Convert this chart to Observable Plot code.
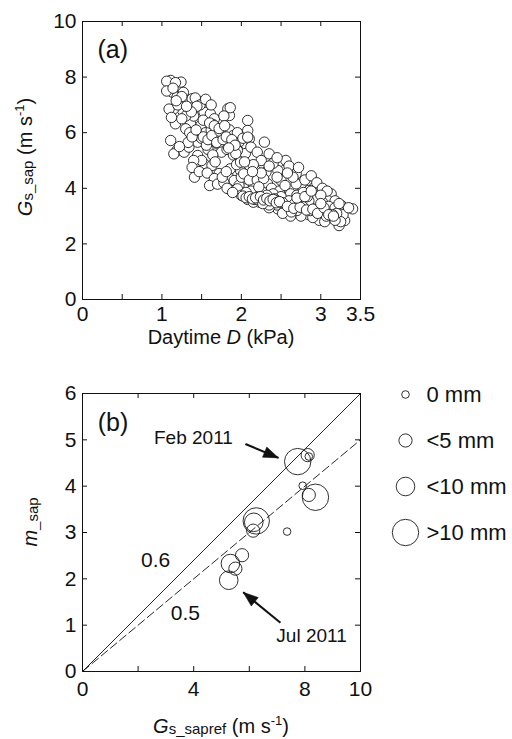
<!DOCTYPE html>
<html><head><meta charset="utf-8">
<script src="https://cdn.jsdelivr.net/npm/d3@7"></script>
<script src="https://cdn.jsdelivr.net/npm/@observablehq/plot@0.6"></script>
<style>
body{margin:0;background:#fff;}
#root{position:relative;width:512px;height:739px;font-family:"Liberation Sans",Arial,Helvetica,sans-serif;color:#111;}
.panel{position:absolute;left:0;}
.lbl{position:absolute;font-size:20px;white-space:nowrap;transform:translate(-50%,-50%);line-height:1;}
.rot{transform:translate(-50%,-50%) rotate(-90deg);}
.sb{font-size:15px;position:relative;top:1px;}
.sp{font-size:13px;position:relative;top:-8px;}
</style></head>
<body><div id="root"></div>
<script>
// ---------- Panel (a) data: daytime D (kPa) vs Gs_sap (m s-1) ----------
const dayD = [
1.11,1.24,1.06,1.17,1.13,1.06,1.19,1.28,1.22,1.26,1.15,1.09,1.38,1.49,1.53,1.61,1.83,1.85,1.72,1.59,
1.49,1.36,1.30,1.17,1.11,1.19,1.15,1.28,1.34,1.45,1.57,1.70,1.76,1.87,1.97,2.08,2.08,2.10,1.45,1.53,
1.63,1.41,1.72,1.83,1.91,1.99,2.04,2.12,2.20,1.87,1.97,
1.42,1.48,1.35,1.40,1.55,1.62,1.66,1.78,1.86,1.30,1.20,1.25,1.35,1.42,1.50,1.55,1.62,1.68,1.74,1.80,
1.85,1.90,1.95,2.02,1.68,1.75,1.82,1.90,1.95,2.00,2.05,1.58,1.64,1.50,1.40,1.38,1.47,1.57,1.66,1.60,
1.70,1.78,1.82,1.76,1.86,1.94,2.00,1.33,1.22,1.38,
2.08,2.29,2.12,2.35,2.56,2.54,2.69,2.46,2.31,2.18,2.75,2.92,2.85,2.98,3.13,3.26,3.40,3.30,3.23,3.04,
2.94,2.81,2.62,2.46,2.37,2.23,2.06,1.95,2.16,2.33,2.50,2.69,2.88,3.09,3.13,3.00,2.79,2.58,2.41,2.27,
1.99,1.95,2.03,
2.20,2.25,2.40,2.45,2.60,2.65,2.72,2.80,2.88,2.95,3.02,3.08,3.18,3.22,3.28,3.25,3.12,3.05,2.97,2.90,
2.85,2.75,2.70,2.62,2.55,2.50,2.45,2.35,2.30,2.18,2.12,2.08,2.10,2.20,2.28,2.38,2.48,2.55,2.62,2.70,
2.78,2.95,3.02,3.10,3.18,2.65,2.40,2.15,2.00,2.25,2.50,2.60,2.85,3.00,2.35,2.55,2.75,2.92,3.20,3.35,
2.45,2.58,2.35,2.15,2.25,2.98,3.05,3.18,2.90,
1.14,1.27,1.44,1.52,1.64,1.71,1.79,1.93,2.04,2.14,2.22,2.32,2.42,2.52,2.66,2.77,2.83,3.15,1.56,1.67,
1.81,1.89,2.06,2.17,2.27,2.44,2.52,2.63,2.72,2.87,3.07,3.23,
1.52,1.58,1.63,1.69,1.73,1.77,1.81,1.88,1.92,1.60,1.66,1.72,1.79,1.84,2.02,2.06,2.10,2.14,2.18,2.24,
2.28,2.32,2.36,2.40,2.44,2.48,2.58,2.66,2.74,2.82,2.90,2.96,3.04,3.10,3.16,2.70,2.80,2.88,3.00,1.43,
1.37,1.31,1.25,1.18,1.12
];
const gsSap = [
7.88,7.82,7.85,7.80,7.46,7.50,7.28,7.28,7.10,6.80,6.86,6.85,7.22,7.10,6.74,6.68,6.86,6.62,6.32,6.20,
6.26,6.32,6.14,6.32,5.72,5.36,5.24,5.30,5.48,5.66,5.72,5.60,5.60,5.60,5.66,6.44,6.08,5.78,5.18,4.88,
4.82,4.40,4.53,4.46,4.28,4.64,3.98,3.68,3.68,3.92,4.10,
7.25,7.00,6.90,6.60,7.20,7.00,6.50,6.60,6.90,6.60,7.00,6.50,6.00,5.90,5.80,6.00,6.10,6.00,5.90,5.95,
6.10,5.90,6.00,5.80,5.70,5.30,5.40,5.20,5.40,5.10,5.25,5.40,5.20,5.00,5.00,4.75,4.60,4.55,4.35,4.10,
4.15,4.20,4.00,4.40,4.70,4.85,4.40,5.65,5.50,5.85,
5.84,5.66,5.48,5.24,5.00,4.64,4.52,4.64,4.58,4.64,4.10,4.04,3.92,3.86,3.80,3.38,3.26,2.84,2.66,2.90,
3.02,3.26,3.26,3.26,3.50,3.50,3.68,3.98,4.10,4.16,4.28,4.16,3.68,3.56,3.20,3.20,3.50,3.62,3.68,3.86,
4.94,5.36,4.52,
5.30,5.00,4.90,5.10,4.80,4.40,4.75,4.30,4.45,4.20,4.00,3.90,3.55,3.20,3.05,2.80,2.95,3.10,3.40,3.30,
3.05,3.00,3.20,3.00,3.40,3.55,3.40,3.30,3.55,3.75,3.90,3.60,4.30,4.30,4.35,4.00,3.90,4.10,3.80,3.75,
3.85,3.60,3.50,3.35,3.30,3.50,3.80,3.50,3.75,3.65,3.70,3.55,3.55,3.75,3.40,3.25,3.40,3.15,3.10,3.30,
4.40,4.55,4.80,4.85,4.55,2.85,2.80,2.85,2.95,
7.60,7.45,6.95,6.45,6.30,5.95,5.75,5.25,4.95,4.60,4.05,3.75,3.62,3.48,3.42,3.35,3.70,3.05,5.55,4.95,
4.60,3.85,3.85,3.60,3.45,3.55,3.10,3.15,3.35,3.20,3.00,3.45,
5.85,5.75,5.90,5.65,6.05,5.75,5.85,5.75,5.55,6.35,6.25,6.15,6.25,5.45,3.72,3.66,3.70,3.62,3.66,3.70,
3.58,3.64,3.55,3.60,3.48,3.52,3.35,3.28,3.32,3.22,3.25,3.10,3.30,3.05,3.00,3.65,3.70,3.90,3.45,6.10,
6.75,6.95,7.30,7.15,6.55
];
const xTicksA = [0, 0.5, 1, 1.5, 2, 2.5, 3, 3.5];
const xLabelsA = [0, 1, 2, 3, 3.5];
const yTicksA = [0, 2, 4, 6, 8, 10];

// ---------- Panel (b) data: Gs_sapref vs m_sap, by rainfall class ----------
const rainLabels = ["0 mm", "<5 mm", "<10 mm", ">10 mm"];
const gsSapref = [7.74, 8.10, 8.14, 7.92, 8.38, 8.14, 6.25, 6.16, 6.14, 7.36, 5.74, 5.32, 5.50, 5.26];
const mSap     = [4.53, 4.67, 4.64, 4.01, 3.76, 3.81, 3.25, 3.22, 3.04, 3.02, 2.51, 2.33, 2.22, 1.97];
const rainCls  = [">10 mm", "<5 mm", "0 mm", "0 mm", ">10 mm", "<5 mm", ">10 mm", "<10 mm", "<5 mm", "0 mm", "<5 mm", "<10 mm", "<5 mm", "<10 mm"];
const slopes = [0.6, 0.5];
const xTicksB = [0, 2, 4, 6, 8, 10];
const xLabelsB = [0, 4, 8, 10];
const yTicksB = [0, 1, 2, 3, 4, 5, 6];
const arrowNames = ["Feb 2011", "Jul 2011"];
const arrowFrom = [[5.86, 4.91], [7.12, 1.05]];
const arrowTo   = [[7.05, 4.61], [5.78, 1.71]];

// ---------- styles / layout ----------
const FONT = '"Liberation Sans", Arial, Helvetica, sans-serif';
const INK = "#111";
const radius = {"0 mm": 3.8, "<5 mm": 6.6, "<10 mm": 9.3, ">10 mm": 13.2};
const IW = 278, IH = 278;
const ML = 82, MR = 152;
const TICK = 5;

function frameTicks(xt, yt) {
  return [
    Plot.tickX(xt, {x: d => d, insetTop: IH - TICK, stroke: INK}),
    Plot.tickX(xt, {x: d => d, insetBottom: IH - TICK, stroke: INK}),
    Plot.tickY(yt, {y: d => d, insetRight: IW - TICK, stroke: INK}),
    Plot.tickY(yt, {y: d => d, insetLeft: IW - TICK, stroke: INK}),
    Plot.frame({stroke: INK, strokeWidth: 1})
  ];
}
const style = {fontFamily: FONT, fontSize: "21px", color: INK, background: "transparent", overflow: "visible"};

const root = document.getElementById("root");

// Panel (a)
const ptsA = dayD.map((d, i) => ({d, g: gsSap[i]}));
const topA = 21;
const plotA = Plot.plot({
  width: 512, height: topA + IH + 46,
  marginLeft: ML, marginRight: MR, marginTop: topA, marginBottom: 46,
  x: {domain: [0, 3.5]}, y: {domain: [0, 10]},
  style,
  marks: [
    Plot.dot(ptsA, {x: "d", y: "g", r: 5.2, fill: "white", stroke: "#1a1a1a", strokeWidth: 0.9}),
    ...frameTicks(xTicksA, yTicksA),
    Plot.axisX({ticks: xLabelsA, tickSize: 0, tickPadding: 7, tickFormat: d => String(d), label: null, fontSize: 21}),
    Plot.axisY({ticks: yTicksA, tickSize: 0, tickPadding: 6, tickFormat: d => String(d), label: null, fontSize: 21}),
    Plot.text(["(a)"], {x: 0.38, y: 8.96, text: d => d, fontSize: 25, fill: INK})
  ]
});
plotA.classList.add("panel");
plotA.style.top = "0px";
root.appendChild(plotA);

// Panel (b)
const topB = 370, mtB = 23;
const kx = IW / 10, ky = IH / 6;
const ptsB = gsSapref.map((g, i) => ({g, m: mSap[i], c: rainCls[i]}));
const arrows = arrowNames.map((n, i) => {
  const [x1, y1] = arrowFrom[i], [x2, y2] = arrowTo[i];
  const ang = Math.atan2((x2 - x1) * kx, (y2 - y1) * ky) * 180 / Math.PI;
  return {n, x1, y1, x2, y2, ang};
});
const headShape = {draw(ctx) { ctx.moveTo(0, 0); ctx.lineTo(-5.5, 15); ctx.lineTo(5.5, 15); ctx.closePath(); }};
const plotB = Plot.plot({
  width: 512, height: mtB + IH + 40,
  marginLeft: ML, marginRight: MR, marginTop: mtB, marginBottom: 40,
  x: {domain: [0, 10]}, y: {domain: [0, 6]}, r: {type: "identity"},
  style,
  marks: [
    Plot.link([slopes[0]], {x1: () => 0, y1: () => 0, x2: () => 10, y2: s => s * 10, stroke: INK, strokeWidth: 0.9}),
    Plot.link([slopes[1]], {x1: () => 0, y1: () => 0, x2: () => 10, y2: s => s * 10, stroke: INK, strokeWidth: 0.9, strokeDasharray: "9,3"}),
    Plot.dot(ptsB, {x: "g", y: "m", r: d => radius[d.c], fill: "none", stroke: "#1a1a1a", strokeWidth: 0.9}),
    Plot.link(arrows, {x1: "x1", y1: "y1", x2: "x2", y2: "y2", stroke: INK, strokeWidth: 2}),
    Plot.dot(arrows, {x: "x2", y: "y2", symbol: headShape, rotate: "ang", fill: INK, stroke: INK, strokeWidth: 0.5, r: 4}),
    ...frameTicks(xTicksB, yTicksB),
    Plot.axisX({ticks: xLabelsB, tickSize: 0, tickPadding: 10, tickFormat: d => String(d), label: null, fontSize: 21}),
    Plot.axisY({ticks: yTicksB, tickSize: 0, tickPadding: 6, tickFormat: d => String(d), label: null, fontSize: 21}),
    Plot.text(["(b)"], {x: 1.1, y: 5.37, text: d => d, fontSize: 25, fill: INK}),
    Plot.text([String(slopes[0])], {x: 2.63, y: 2.39, text: d => d, fontSize: 21, fill: INK}),
    Plot.text([String(slopes[1])], {x: 3.7, y: 1.25, text: d => d, fontSize: 21, fill: INK}),
    Plot.text([arrowNames[0]], {x: 3.99, y: 5.04, text: d => d, fontSize: 19, fill: INK}),
    Plot.text([arrowNames[1]], {x: 8.24, y: 0.77, text: d => d, fontSize: 19, fill: INK})
  ]
});
plotB.classList.add("panel");
plotB.style.top = topB + "px";
root.appendChild(plotB);

// Legend (b)
const legend = Plot.plot({
  width: 127, height: 190, margin: 0,
  x: {domain: [0, 1], range: [20, 120]},
  y: {type: "point", domain: rainLabels, range: [23, 162], padding: 0},
  r: {type: "identity"},
  axis: null,
  style,
  marks: [
    Plot.dot(rainLabels, {x: () => 0, y: d => d, r: d => radius[d], fill: "none", stroke: "#1a1a1a", strokeWidth: 0.9}),
    Plot.text(rainLabels, {x: () => 0, y: d => d, text: d => d, dx: 21, textAnchor: "start", fontSize: 22, fill: INK})
  ]
});
legend.classList.add("panel");
legend.style.left = "385px";
legend.style.top = "370px";
root.appendChild(legend);

// Axis titles
function addLabel(html, x, y, rot) {
  const d = document.createElement("div");
  d.className = "lbl" + (rot ? " rot" : "");
  d.style.left = x + "px"; d.style.top = y + "px";
  d.innerHTML = html;
  root.appendChild(d);
}
addLabel('Daytime <i>D</i> (kPa)', 221, 337);
addLabel('<i>G</i><span class="sb">s_sap</span> (m s<span class="sp">-1</span>)', 25, 157, true);
addLabel('<i>G</i><span class="sb">s_sapref</span> (m s<span class="sp">-1</span>)', 221, 726);
addLabel('<i>m</i><span class="sb">_sap</span>', 30, 522, true);
</script>
</body></html>
